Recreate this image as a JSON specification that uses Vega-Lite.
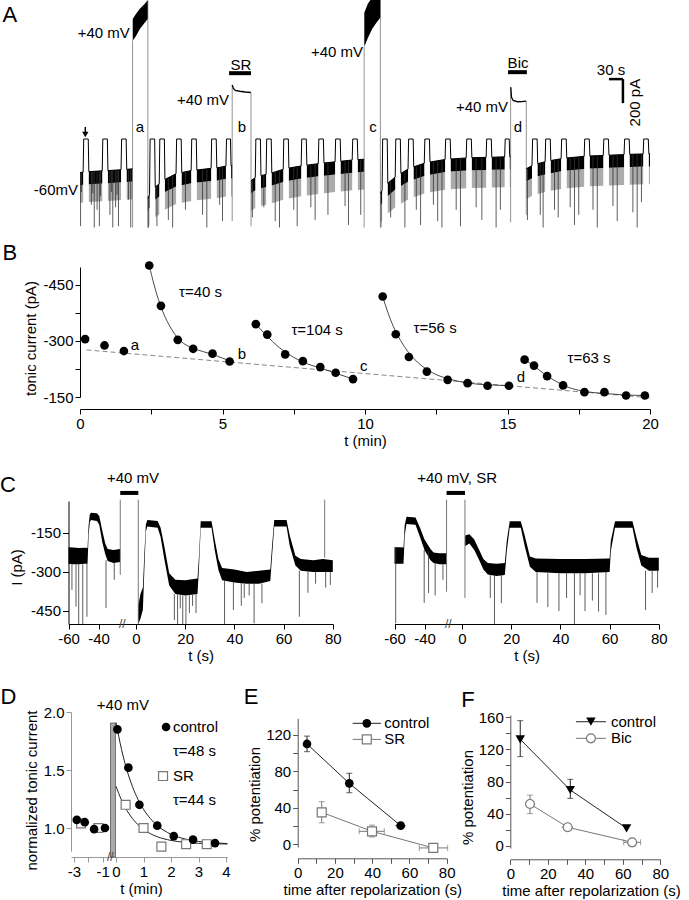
{
"$schema":"https://vega.github.io/schema/vega-lite/v6.json",
"width":689,"height":900,
"autosize":{"type":"fit","contains":"padding"},
"padding":0,
"background":"white",
"config":{"view":{"stroke":null},"font":"Liberation Sans",
"axis":{"grid":false,"labelFont":"Liberation Sans","titleFont":"Liberation Sans","labelFontSize":15,"titleFontSize":15,"titleFontWeight":"normal","labelColor":"black","titleColor":"black","domainColor":"black","tickColor":"black","labelFlush":false,"labelOverlap":false,"labelBound":false,"tickSize":5,"labelPadding":2,"titlePadding":3},
"text":{"font":"Liberation Sans","fontSize":15,"color":"black"}},
"datasets":{
"aband":[
{"s":0,"t":0,"v":-265,"v2":-365,"v3":-505},{"s":0,"t":0.11,"v":-262,"v2":-362,"v3":-502},
{"s":1,"t":0.31,"v":-258,"v2":-358,"v3":-498},{"s":1,"t":0.78,"v":-252,"v2":-352,"v3":-492},
{"s":2,"t":0.98,"v":-250,"v2":-350,"v3":-490},{"s":2,"t":1.44,"v":-243,"v2":-343,"v3":-483},
{"s":3,"t":1.64,"v":-240,"v2":-340,"v3":-480},{"s":3,"t":1.845,"v":-236,"v2":-336,"v3":-476},
{"s":4,"t":2.38,"v":-470,"v2":-570,"v3":-710},{"s":4,"t":2.44,"v":-440,"v2":-540,"v3":-680},
{"s":5,"t":2.64,"v":-380,"v2":-480,"v3":-620},{"s":5,"t":2.78,"v":-355,"v2":-455,"v3":-595},
{"s":6,"t":2.98,"v":-320,"v2":-420,"v3":-560},{"s":6,"t":3.37,"v":-275,"v2":-375,"v3":-515},
{"s":7,"t":3.57,"v":-265,"v2":-365,"v3":-505},{"s":7,"t":3.9,"v":-250,"v2":-350,"v3":-490},
{"s":8,"t":4.1,"v":-245,"v2":-345,"v3":-485},{"s":8,"t":4.6,"v":-232,"v2":-332,"v3":-472},
{"s":9,"t":4.8,"v":-228,"v2":-328,"v3":-468},{"s":9,"t":5.12,"v":-215,"v2":-315,"v3":-455},
{"s":10,"t":5.3,"v":-212,"v2":-312,"v3":-452},{"s":10,"t":5.34,"v":-211,"v2":-311,"v3":-451},
{"s":11,"t":6.0,"v":-330,"v2":-430,"v3":-570},{"s":11,"t":6.15,"v":-305,"v2":-405,"v3":-545},
{"s":12,"t":6.35,"v":-290,"v2":-390,"v3":-530},{"s":12,"t":6.53,"v":-280,"v2":-380,"v3":-520},
{"s":13,"t":6.73,"v":-268,"v2":-368,"v3":-508},{"s":13,"t":7.13,"v":-240,"v2":-340,"v3":-480},
{"s":14,"t":7.33,"v":-230,"v2":-330,"v3":-470},{"s":14,"t":7.76,"v":-213,"v2":-313,"v3":-453},
{"s":15,"t":7.96,"v":-207,"v2":-307,"v3":-447},{"s":15,"t":8.36,"v":-195,"v2":-295,"v3":-435},
{"s":16,"t":8.56,"v":-190,"v2":-290,"v3":-430},{"s":16,"t":8.95,"v":-180,"v2":-280,"v3":-420},
{"s":17,"t":9.15,"v":-176,"v2":-276,"v3":-416},{"s":17,"t":9.55,"v":-166,"v2":-266,"v3":-406},
{"s":18,"t":9.75,"v":-163,"v2":-263,"v3":-403},{"s":18,"t":9.97,"v":-160,"v2":-260,"v3":-400},
{"s":19,"t":10.54,"v":-430,"v2":-530,"v3":-670},{"s":19,"t":10.6,"v":-405,"v2":-505,"v3":-645},
{"s":20,"t":10.8,"v":-350,"v2":-450,"v3":-590},{"s":20,"t":11.06,"v":-300,"v2":-400,"v3":-540},
{"s":21,"t":11.26,"v":-272,"v2":-372,"v3":-512},{"s":21,"t":11.51,"v":-238,"v2":-338,"v3":-478},
{"s":22,"t":11.71,"v":-220,"v2":-320,"v3":-460},{"s":22,"t":12.08,"v":-192,"v2":-292,"v3":-432},
{"s":23,"t":12.28,"v":-182,"v2":-282,"v3":-422},{"s":23,"t":12.81,"v":-162,"v2":-262,"v3":-402},
{"s":24,"t":13.01,"v":-158,"v2":-258,"v3":-398},{"s":24,"t":13.55,"v":-150,"v2":-250,"v3":-390},
{"s":25,"t":13.75,"v":-148,"v2":-248,"v3":-388},{"s":25,"t":14.25,"v":-145,"v2":-245,"v3":-385},
{"s":26,"t":14.45,"v":-144,"v2":-244,"v3":-384},{"s":26,"t":14.9,"v":-141,"v2":-241,"v3":-381},
{"s":27,"t":15.08,"v":-140,"v2":-240,"v3":-380},{"s":27,"t":15.11,"v":-140,"v2":-240,"v3":-380},
{"s":28,"t":15.66,"v":-235,"v2":-335,"v3":-475},{"s":28,"t":15.86,"v":-210,"v2":-310,"v3":-450},
{"s":29,"t":16.06,"v":-195,"v2":-295,"v3":-435},{"s":29,"t":16.32,"v":-180,"v2":-280,"v3":-420},
{"s":30,"t":16.52,"v":-170,"v2":-270,"v3":-410},{"s":30,"t":16.88,"v":-156,"v2":-256,"v3":-396},
{"s":31,"t":17.08,"v":-150,"v2":-250,"v3":-390},{"s":31,"t":17.69,"v":-137,"v2":-237,"v3":-377},
{"s":32,"t":17.89,"v":-134,"v2":-234,"v3":-374},{"s":32,"t":18.36,"v":-130,"v2":-230,"v3":-370},
{"s":33,"t":18.56,"v":-128,"v2":-228,"v3":-368},{"s":33,"t":19.09,"v":-123,"v2":-223,"v3":-363},
{"s":34,"t":19.29,"v":-121,"v2":-221,"v3":-361},{"s":34,"t":19.76,"v":-118,"v2":-218,"v3":-358},
{"s":35,"t":19.96,"v":-117,"v2":-217,"v3":-357},{"s":35,"t":20,"v":-117,"v2":-217,"v3":-357}],
"atop":[
{"g":1,"t":0,"v":-265},{"g":1,"t":0.11,"v":-262},{"g":1,"t":0.13,"v":0},{"g":1,"t":0.29,"v":0},{"g":1,"t":0.31,"v":-258},{"g":1,"t":0.78,"v":-252},{"g":1,"t":0.8,"v":0},{"g":1,"t":0.96,"v":0},{"g":1,"t":0.98,"v":-250},{"g":1,"t":1.44,"v":-243},{"g":1,"t":1.46,"v":0},{"g":1,"t":1.62,"v":0},{"g":1,"t":1.64,"v":-240},{"g":1,"t":1.845,"v":-236},
{"g":2,"t":2.38,"v":-470},{"g":2,"t":2.44,"v":-440},{"g":2,"t":2.46,"v":0},{"g":2,"t":2.62,"v":0},{"g":2,"t":2.64,"v":-380},{"g":2,"t":2.78,"v":-355},{"g":2,"t":2.8,"v":0},{"g":2,"t":2.96,"v":0},{"g":2,"t":2.98,"v":-320},{"g":2,"t":3.37,"v":-275},{"g":2,"t":3.39,"v":0},{"g":2,"t":3.55,"v":0},{"g":2,"t":3.57,"v":-265},{"g":2,"t":3.9,"v":-250},{"g":2,"t":3.92,"v":0},{"g":2,"t":4.08,"v":0},{"g":2,"t":4.1,"v":-245},{"g":2,"t":4.6,"v":-232},{"g":2,"t":4.62,"v":0},{"g":2,"t":4.78,"v":0},{"g":2,"t":4.8,"v":-228},{"g":2,"t":5.12,"v":-215},{"g":2,"t":5.14,"v":0},{"g":2,"t":5.28,"v":0},{"g":2,"t":5.3,"v":-212},{"g":2,"t":5.34,"v":-211},
{"g":3,"t":6.0,"v":-330},{"g":3,"t":6.15,"v":-305},{"g":3,"t":6.17,"v":0},{"g":3,"t":6.33,"v":0},{"g":3,"t":6.35,"v":-290},{"g":3,"t":6.53,"v":-280},{"g":3,"t":6.55,"v":0},{"g":3,"t":6.71,"v":0},{"g":3,"t":6.73,"v":-268},{"g":3,"t":7.13,"v":-240},{"g":3,"t":7.15,"v":0},{"g":3,"t":7.31,"v":0},{"g":3,"t":7.33,"v":-230},{"g":3,"t":7.76,"v":-213},{"g":3,"t":7.78,"v":0},{"g":3,"t":7.94,"v":0},{"g":3,"t":7.96,"v":-207},{"g":3,"t":8.36,"v":-195},{"g":3,"t":8.38,"v":0},{"g":3,"t":8.54,"v":0},{"g":3,"t":8.56,"v":-190},{"g":3,"t":8.95,"v":-180},{"g":3,"t":8.97,"v":0},{"g":3,"t":9.13,"v":0},{"g":3,"t":9.15,"v":-176},{"g":3,"t":9.55,"v":-166},{"g":3,"t":9.57,"v":0},{"g":3,"t":9.73,"v":0},{"g":3,"t":9.75,"v":-163},{"g":3,"t":9.97,"v":-160},
{"g":4,"t":10.54,"v":-430},{"g":4,"t":10.6,"v":-405},{"g":4,"t":10.62,"v":0},{"g":4,"t":10.78,"v":0},{"g":4,"t":10.8,"v":-350},{"g":4,"t":11.06,"v":-300},{"g":4,"t":11.08,"v":0},{"g":4,"t":11.24,"v":0},{"g":4,"t":11.26,"v":-272},{"g":4,"t":11.51,"v":-238},{"g":4,"t":11.53,"v":0},{"g":4,"t":11.69,"v":0},{"g":4,"t":11.71,"v":-220},{"g":4,"t":12.08,"v":-192},{"g":4,"t":12.1,"v":0},{"g":4,"t":12.26,"v":0},{"g":4,"t":12.28,"v":-182},{"g":4,"t":12.81,"v":-162},{"g":4,"t":12.83,"v":0},{"g":4,"t":12.99,"v":0},{"g":4,"t":13.01,"v":-158},{"g":4,"t":13.55,"v":-150},{"g":4,"t":13.57,"v":0},{"g":4,"t":13.73,"v":0},{"g":4,"t":13.75,"v":-148},{"g":4,"t":14.25,"v":-145},{"g":4,"t":14.27,"v":0},{"g":4,"t":14.43,"v":0},{"g":4,"t":14.45,"v":-144},{"g":4,"t":14.9,"v":-141},{"g":4,"t":14.92,"v":0},{"g":4,"t":15.06,"v":0},{"g":4,"t":15.08,"v":-140},{"g":4,"t":15.11,"v":-140},
{"g":5,"t":15.66,"v":-235},{"g":5,"t":15.86,"v":-210},{"g":5,"t":15.88,"v":0},{"g":5,"t":16.04,"v":0},{"g":5,"t":16.06,"v":-195},{"g":5,"t":16.32,"v":-180},{"g":5,"t":16.34,"v":0},{"g":5,"t":16.5,"v":0},{"g":5,"t":16.52,"v":-170},{"g":5,"t":16.88,"v":-156},{"g":5,"t":16.9,"v":0},{"g":5,"t":17.06,"v":0},{"g":5,"t":17.08,"v":-150},{"g":5,"t":17.69,"v":-137},{"g":5,"t":17.71,"v":0},{"g":5,"t":17.87,"v":0},{"g":5,"t":17.89,"v":-134},{"g":5,"t":18.36,"v":-130},{"g":5,"t":18.38,"v":0},{"g":5,"t":18.54,"v":0},{"g":5,"t":18.56,"v":-128},{"g":5,"t":19.09,"v":-123},{"g":5,"t":19.11,"v":0},{"g":5,"t":19.27,"v":0},{"g":5,"t":19.29,"v":-121},{"g":5,"t":19.76,"v":-118},{"g":5,"t":19.78,"v":0},{"g":5,"t":19.94,"v":0},{"g":5,"t":19.96,"v":-117},{"g":5,"t":20,"v":-117}],
"aspk":[
{"t":0.02,"v":-265,"v2":-690},{"t":0.05,"v":-264,"v2":-420},{"t":0.4,"v":-257,"v2":-520},{"t":0.45,"v":-257,"v2":-430},{"t":0.5,"v":-256,"v2":-700},{"t":0.6,"v":-255,"v2":-560},{"t":0.68,"v":-254,"v2":-690},{"t":0.72,"v":-253,"v2":-450},{"t":1.05,"v":-249,"v2":-600},{"t":1.1,"v":-249,"v2":-420},{"t":1.15,"v":-248,"v2":-700},{"t":1.25,"v":-246,"v2":-540},{"t":1.3,"v":-245,"v2":-440},{"t":1.35,"v":-245,"v2":-690},{"t":1.7,"v":-239,"v2":-480},{"t":1.78,"v":-237,"v2":-700},
{"t":2.4,"v":-460,"v2":-700},{"t":2.7,"v":-370,"v2":-690},{"t":3.1,"v":-300,"v2":-640},{"t":3.25,"v":-285,"v2":-700},{"t":3.7,"v":-258,"v2":-560},{"t":4.3,"v":-240,"v2":-600},{"t":4.45,"v":-236,"v2":-700},{"t":4.9,"v":-225,"v2":-520},{"t":5.0,"v":-220,"v2":-650},
{"t":6.05,"v":-320,"v2":-620},{"t":6.45,"v":-285,"v2":-540},{"t":6.85,"v":-262,"v2":-650},{"t":7.0,"v":-250,"v2":-700},{"t":7.5,"v":-224,"v2":-560},{"t":7.62,"v":-218,"v2":-690},{"t":8.1,"v":-203,"v2":-540},{"t":8.25,"v":-198,"v2":-640},{"t":8.7,"v":-187,"v2":-600},{"t":9.3,"v":-173,"v2":-530},{"t":9.42,"v":-170,"v2":-680},{"t":9.85,"v":-162,"v2":-600},
{"t":10.56,"v":-420,"v2":-700},{"t":10.9,"v":-330,"v2":-620},{"t":11.4,"v":-255,"v2":-700},{"t":11.8,"v":-215,"v2":-560},{"t":11.95,"v":-200,"v2":-680},{"t":12.4,"v":-178,"v2":-520},{"t":12.55,"v":-172,"v2":-650},{"t":12.7,"v":-166,"v2":-700},{"t":13.2,"v":-155,"v2":-560},{"t":13.35,"v":-153,"v2":-690},{"t":13.9,"v":-147,"v2":-540},{"t":14.1,"v":-146,"v2":-640},{"t":14.6,"v":-143,"v2":-700},{"t":14.75,"v":-142,"v2":-560},
{"t":15.7,"v":-230,"v2":-640},{"t":16.15,"v":-190,"v2":-600},{"t":16.25,"v":-184,"v2":-700},{"t":16.65,"v":-166,"v2":-560},{"t":16.78,"v":-160,"v2":-620},{"t":17.2,"v":-148,"v2":-540},{"t":17.35,"v":-145,"v2":-680},{"t":17.5,"v":-141,"v2":-600},{"t":18.0,"v":-132,"v2":-560},{"t":18.15,"v":-131,"v2":-700},{"t":18.7,"v":-126,"v2":-530},{"t":18.85,"v":-125,"v2":-650},{"t":19.4,"v":-120,"v2":-580},{"t":19.55,"v":-119,"v2":-700},{"t":19.7,"v":-118,"v2":-500}],
"bpts":[
{"t":0.18,"v":-305},{"t":0.86,"v":-288},{"t":1.54,"v":-273},{"t":2.43,"v":-502},{"t":2.84,"v":-394},{"t":3.43,"v":-303},{"t":3.97,"v":-279},{"t":4.65,"v":-266},{"t":5.25,"v":-245},{"t":6.17,"v":-345},{"t":6.57,"v":-317},{"t":7.2,"v":-264},{"t":7.82,"v":-246},{"t":8.43,"v":-230},{"t":8.97,"v":-215},{"t":9.58,"v":-198},{"t":10.62,"v":-419},{"t":11.08,"v":-318},{"t":11.54,"v":-257},{"t":12.17,"v":-218},{"t":12.9,"v":-196},{"t":13.6,"v":-187},{"t":14.3,"v":-180},{"t":15.05,"v":-180},{"t":15.6,"v":-250},{"t":15.93,"v":-234},{"t":16.39,"v":-206},{"t":16.95,"v":-181},{"t":17.7,"v":-163},{"t":18.4,"v":-163},{"t":19.16,"v":-154},{"t":19.82,"v":-154}],
"bfit":[
{"g":1,"t":2.43,"v":-502},{"g":1,"t":2.6,"v":-450},{"g":1,"t":2.8,"v":-400},{"g":1,"t":3.0,"v":-362},{"g":1,"t":3.25,"v":-327},{"g":1,"t":3.5,"v":-302},{"g":1,"t":3.75,"v":-288},{"g":1,"t":4.0,"v":-279},{"g":1,"t":4.3,"v":-272},{"g":1,"t":4.65,"v":-264},{"g":1,"t":5.0,"v":-254},{"g":1,"t":5.25,"v":-247},
{"g":2,"t":6.17,"v":-345},{"g":2,"t":6.5,"v":-318},{"g":2,"t":7.0,"v":-282},{"g":2,"t":7.5,"v":-256},{"g":2,"t":8.0,"v":-238},{"g":2,"t":8.5,"v":-226},{"g":2,"t":9.0,"v":-213},{"g":2,"t":9.58,"v":-198},
{"g":3,"t":10.62,"v":-419},{"g":3,"t":10.8,"v":-377},{"g":3,"t":11.0,"v":-338},{"g":3,"t":11.25,"v":-301},{"g":3,"t":11.5,"v":-272},{"g":3,"t":11.75,"v":-250},{"g":3,"t":12.0,"v":-233},{"g":3,"t":12.5,"v":-210},{"g":3,"t":13.0,"v":-197},{"g":3,"t":13.5,"v":-189},{"g":3,"t":14.0,"v":-184},{"g":3,"t":14.5,"v":-182},{"g":3,"t":15.05,"v":-180},
{"g":4,"t":15.6,"v":-250},{"g":4,"t":15.8,"v":-240},{"g":4,"t":16.0,"v":-229},{"g":4,"t":16.25,"v":-214},{"g":4,"t":16.5,"v":-201},{"g":4,"t":16.75,"v":-190},{"g":4,"t":17.0,"v":-180},{"g":4,"t":17.5,"v":-168},{"g":4,"t":18.0,"v":-162},{"g":4,"t":18.5,"v":-159},{"g":4,"t":19.0,"v":-156},{"g":4,"t":19.5,"v":-154.5},{"g":4,"t":19.82,"v":-154}],
"clband":[
{"s":"L","t":-60,"v":-205,"v2":-268},{"s":"L","t":-57,"v":-206,"v2":-270},{"s":"L","t":-53,"v":-208,"v2":-270},{"s":"L","t":-49,"v":-207,"v2":-268},{"s":"L","t":-47.3,"v":-208,"v2":-268},{"s":"L","t":-46.6,"v":-120,"v2":-160},{"s":"L","t":-45.8,"v":-78,"v2":-108},{"s":"L","t":-45,"v":-72,"v2":-100},{"s":"L","t":-41,"v":-74,"v2":-104},{"s":"L","t":-39.5,"v":-85,"v2":-118},{"s":"L","t":-37.5,"v":-140,"v2":-185},{"s":"L","t":-35.5,"v":-190,"v2":-232},{"s":"L","t":-33.9,"v":-212,"v2":-258},{"s":"L","t":-30,"v":-215,"v2":-265},{"s":"L","t":-25.6,"v":-212,"v2":-262},
{"s":"R","t":0.95,"v":-430,"v2":-500},{"s":"R","t":1.8,"v":-385,"v2":-480},{"s":"R","t":2.8,"v":-360,"v2":-445},{"s":"R","t":3.4,"v":-230,"v2":-290},{"s":"R","t":4.0,"v":-118,"v2":-145},{"s":"R","t":4.6,"v":-100,"v2":-125},{"s":"R","t":8.8,"v":-104,"v2":-130},{"s":"R","t":10.0,"v":-130,"v2":-165},{"s":"R","t":11.5,"v":-200,"v2":-250},{"s":"R","t":13.5,"v":-305,"v2":-352},{"s":"R","t":16,"v":-330,"v2":-385},{"s":"R","t":20,"v":-332,"v2":-390},{"s":"R","t":25.0,"v":-325,"v2":-385},{"s":"R","t":25.6,"v":-240,"v2":-285},{"s":"R","t":26.3,"v":-105,"v2":-130},{"s":"R","t":30.7,"v":-105,"v2":-130},{"s":"R","t":32,"v":-175,"v2":-215},{"s":"R","t":33.5,"v":-250,"v2":-292},{"s":"R","t":35,"v":-285,"v2":-332},{"s":"R","t":40,"v":-290,"v2":-340},{"s":"R","t":45,"v":-300,"v2":-345},{"s":"R","t":50,"v":-295,"v2":-345},{"s":"R","t":54.6,"v":-290,"v2":-335},{"s":"R","t":55.3,"v":-200,"v2":-240},{"s":"R","t":56.2,"v":-100,"v2":-125},{"s":"R","t":61.2,"v":-100,"v2":-125},{"s":"R","t":62.5,"v":-160,"v2":-200},{"s":"R","t":64.8,"v":-238,"v2":-275},{"s":"R","t":67,"v":-250,"v2":-295},{"s":"R","t":72,"v":-255,"v2":-300},{"s":"R","t":76,"v":-250,"v2":-300},{"s":"R","t":80,"v":-255,"v2":-300}],
"clspk":[
{"t":-57.7,"v":-268,"v2":-369},{"t":-55,"v":-270,"v2":-433},{"t":-53.2,"v":-270,"v2":-500},{"t":-50.5,"v":-270,"v2":-500},{"t":-47.7,"v":-268,"v2":-472},{"t":-35,"v":-255,"v2":-438},{"t":-29.5,"v":-265,"v2":-330},
{"t":15.6,"v":-385,"v2":-485},{"t":16.9,"v":-385,"v2":-500},{"t":18,"v":-388,"v2":-440},{"t":19,"v":-390,"v2":-500},{"t":20.3,"v":-390,"v2":-500},{"t":21.7,"v":-390,"v2":-458},{"t":23,"v":-388,"v2":-430},{"t":24.4,"v":-385,"v2":-458},
{"t":36,"v":-330,"v2":-500},{"t":39.6,"v":-340,"v2":-446},{"t":42.8,"v":-342,"v2":-430},{"t":44,"v":-345,"v2":-400},{"t":46,"v":-345,"v2":-390},{"t":48,"v":-345,"v2":-497},{"t":51.2,"v":-345,"v2":-420},
{"t":66.4,"v":-295,"v2":-472},{"t":69.9,"v":-298,"v2":-380},{"t":73,"v":-300,"v2":-345},{"t":77.1,"v":-300,"v2":-360},{"t":79,"v":-300,"v2":-350}],
"crband":[
{"s":"L","t":-60,"v":-205,"v2":-268},{"s":"L","t":-56,"v":-205,"v2":-268},{"s":"L","t":-54,"v":-206,"v2":-268},{"s":"L","t":-53.2,"v":-120,"v2":-160},{"s":"L","t":-52,"v":-88,"v2":-115},{"s":"L","t":-46,"v":-90,"v2":-118},{"s":"L","t":-43,"v":-130,"v2":-165},{"s":"L","t":-40,"v":-175,"v2":-215},{"s":"L","t":-36,"v":-212,"v2":-255},{"s":"L","t":-34,"v":-225,"v2":-265},{"s":"L","t":-30,"v":-228,"v2":-270},{"s":"L","t":-25.4,"v":-228,"v2":-270},
{"s":"R","t":1.3,"v":-160,"v2":-200},{"s":"R","t":3,"v":-155,"v2":-190},{"s":"R","t":5,"v":-175,"v2":-215},{"s":"R","t":7,"v":-215,"v2":-255},{"s":"R","t":8.7,"v":-250,"v2":-290},{"s":"R","t":10.5,"v":-265,"v2":-310},{"s":"R","t":14,"v":-268,"v2":-315},{"s":"R","t":17.4,"v":-265,"v2":-312},{"s":"R","t":18.2,"v":-180,"v2":-220},{"s":"R","t":19.4,"v":-105,"v2":-130},{"s":"R","t":23.9,"v":-105,"v2":-130},{"s":"R","t":25.5,"v":-160,"v2":-200},{"s":"R","t":27.6,"v":-240,"v2":-280},{"s":"R","t":30,"v":-248,"v2":-300},{"s":"R","t":40,"v":-250,"v2":-305},{"s":"R","t":50,"v":-250,"v2":-305},{"s":"R","t":60,"v":-248,"v2":-300},{"s":"R","t":60.5,"v":-180,"v2":-220},{"s":"R","t":62.2,"v":-105,"v2":-130},{"s":"R","t":69.3,"v":-105,"v2":-130},{"s":"R","t":71,"v":-170,"v2":-210},{"s":"R","t":72.9,"v":-235,"v2":-275},{"s":"R","t":76,"v":-245,"v2":-295},{"s":"R","t":80,"v":-245,"v2":-295}],
"crspk":[
{"t":-59.2,"v":-205,"v2":-497},{"t":-40.2,"v":-215,"v2":-419},{"t":-37.3,"v":-220,"v2":-381},{"t":-32.9,"v":-265,"v2":-390},{"t":-27.7,"v":-270,"v2":-330},
{"t":11.5,"v":-312,"v2":-400},{"t":13.2,"v":-312,"v2":-500},{"t":16,"v":-312,"v2":-420},{"t":30.5,"v":-300,"v2":-419},{"t":34.9,"v":-305,"v2":-435},{"t":39.4,"v":-305,"v2":-450},{"t":42.5,"v":-305,"v2":-400},{"t":45.7,"v":-305,"v2":-500},{"t":48,"v":-305,"v2":-390},{"t":50,"v":-305,"v2":-450},{"t":53,"v":-305,"v2":-410},{"t":55.5,"v":-305,"v2":-452},{"t":58.5,"v":-300,"v2":-465},{"t":74.6,"v":-295,"v2":-446},{"t":77.3,"v":-295,"v2":-381},{"t":79.5,"v":-295,"v2":-360}]
},
"resolve":{"scale":{"x":"independent","y":"independent"},"axis":{"x":"independent","y":"independent"}},
"layer":[
{
"encoding":{"x":{"field":"t","type":"quantitative","scale":{"domain":[0,20],"range":[79,649],"nice":false,"zero":false},"axis":null},
"y":{"field":"v","type":"quantitative","scale":{"domain":[-720,1100],"range":[230,0],"nice":false,"zero":false},"axis":null}},
"layer":[
{"data":{"name":"aband"},"mark":{"type":"area","color":"#666","opacity":0.55,"clip":true},"encoding":{"y":{"field":"v2","type":"quantitative","axis":null},"y2":{"field":"v3"},"detail":{"field":"s","type":"nominal"}}},
{"data":{"name":"aband"},"mark":{"type":"area","color":"black","clip":true},"encoding":{"y2":{"field":"v2"},"detail":{"field":"s","type":"nominal"}}},
{"data":{"name":"aspk"},"mark":{"type":"rule","color":"#333","strokeWidth":0.8,"clip":true},"encoding":{"y2":{"field":"v2"}}},
{"data":{"values":[{"t":1.845,"v":780,"v2":-700},{"t":2.38,"v":1098,"v2":-700},{"t":5.34,"v":427,"v2":-650},{"t":6.0,"v":368,"v2":-690},{"t":9.97,"v":730,"v2":-700},{"t":10.54,"v":1150,"v2":-700},{"t":15.11,"v":410,"v2":-660},{"t":15.66,"v":300,"v2":-600}]},"mark":{"type":"rule","color":"#777","strokeWidth":0.8,"clip":true},"encoding":{"y2":{"field":"v2"}}},
{"data":{"values":[{"g":"a","t":1.85,"v":950,"v2":780},{"g":"a","t":1.95,"v":985,"v2":810},{"g":"a","t":2.1,"v":1030,"v2":870},{"g":"a","t":2.25,"v":1065,"v2":915},{"g":"a","t":2.375,"v":1098,"v2":950},{"g":"c","t":9.975,"v":1000,"v2":730},{"g":"c","t":10.1,"v":1070,"v2":800},{"g":"c","t":10.25,"v":1120,"v2":870},{"g":"c","t":10.4,"v":1150,"v2":920},{"g":"c","t":10.535,"v":1160,"v2":960}]},"mark":{"type":"area","color":"black","clip":true},"encoding":{"y2":{"field":"v2"},"detail":{"field":"g","type":"nominal"}}},
{"data":{"name":"atop"},"mark":{"type":"line","color":"black","strokeWidth":1,"clip":true},"encoding":{"detail":{"field":"g","type":"nominal"}}},
{"data":{"values":[{"g":"b","t":5.345,"v":427},{"g":"b","t":5.38,"v":400},{"g":"b","t":5.45,"v":385},{"g":"b","t":5.6,"v":378},{"g":"b","t":5.8,"v":372},{"g":"b","t":5.995,"v":368},{"g":"d","t":15.115,"v":410},{"g":"d","t":15.14,"v":330},{"g":"d","t":15.2,"v":305},{"g":"d","t":15.35,"v":295},{"g":"d","t":15.5,"v":296},{"g":"d","t":15.655,"v":300}]},"mark":{"type":"line","color":"black","strokeWidth":1.3,"clip":true},"encoding":{"detail":{"field":"g","type":"nominal"}}},
{"data":{"values":[{"t":5.23,"t2":6.0,"v":521},{"t":15.02,"t2":15.68,"v":529}]},"mark":{"type":"rule","color":"black","strokeWidth":4},"encoding":{"x2":{"field":"t2"}}},
{"data":{"values":[{"t":18.56,"t2":19.05,"v":474,"v2":474},{"t":19.05,"t2":19.05,"v":474,"v2":284}]},"mark":{"type":"rule","color":"black","strokeWidth":2.5},"encoding":{"x2":{"field":"t2"},"y2":{"field":"v2"}}},
{"data":{"values":[{"t":0.186,"v":95,"v2":50}]},"mark":{"type":"rule","color":"black","strokeWidth":1.5},"encoding":{"y2":{"field":"v2"}}},
{"data":{"values":[{"t":0.186,"v":35}]},"mark":{"type":"point","shape":"triangle-down","filled":true,"color":"black","size":40,"opacity":1}},
{"data":{"values":[{"t":1.75,"v":837,"s":"+40 mV"},{"t":5.23,"v":308,"s":"+40 mV"},{"t":9.93,"v":687,"s":"+40 mV"},{"t":15.02,"v":253,"s":"+40 mV"},{"t":-0.07,"v":-403,"s":"-60mV"}]},"mark":{"type":"text","align":"right","baseline":"middle","fontSize":15},"encoding":{"text":{"field":"s","type":"nominal"}}},
{"data":{"values":[{"t":5.65,"v":585,"s":"SR"},{"t":15.37,"v":600,"s":"Bic"},{"t":2.1,"v":95,"s":"a"},{"t":5.68,"v":95,"s":"b"},{"t":10.28,"v":95,"s":"c"},{"t":15.37,"v":95,"s":"d"},{"t":18.63,"v":545,"s":"30 s"}]},"mark":{"type":"text","align":"center","baseline":"middle","fontSize":15},"encoding":{"text":{"field":"s","type":"nominal"}}},
{"data":{"values":[{"t":19.47,"v":288,"s":"200 pA"}]},"mark":{"type":"text","angle":270,"align":"center","baseline":"middle","fontSize":15},"encoding":{"text":{"field":"s","type":"nominal"}}},
{"data":{"values":[{"t":-2.46,"v":980,"s":"A"}]},"mark":{"type":"text","align":"center","baseline":"middle","fontSize":22},"encoding":{"text":{"field":"s","type":"nominal"}}}
]},
{
"encoding":{"x":{"field":"t","type":"quantitative","scale":{"domain":[0,20],"range":[79,649],"nice":false,"zero":false},"axis":{"orient":"bottom","offset":-491,"values":[0,2.5,5,7.5,10,12.5,15,17.5,20],"labelExpr":"datum.value % 5 == 0 ? '' + datum.value : ''","title":"t (min)","titlePadding":2}},
"y":{"field":"v","type":"quantitative","scale":{"domain":[-498,-150],"range":[267,397],"nice":false,"zero":false},"axis":{"orient":"left","offset":-79,"values":[-450,-375,-300,-225,-150],"labelExpr":"datum.value % 150 == 0 ? '' + datum.value : ''","title":"tonic current (pA)","titlePadding":4,"titleY":338}}},
"layer":[
{"data":{"values":[{"t":0.23,"v":-276},{"t":20,"v":-148}]},"mark":{"type":"line","color":"#888","strokeDash":[5,3],"strokeWidth":1}},
{"data":{"name":"bfit"},"mark":{"type":"line","color":"#333","strokeWidth":0.9,"interpolate":"monotone"},"encoding":{"detail":{"field":"g","type":"nominal"}}},
{"data":{"name":"bpts"},"mark":{"type":"circle","size":75,"color":"black","opacity":1}},
{"data":{"values":[{"t":4.23,"v":-432,"s":"τ=40 s"},{"t":8.32,"v":-329,"s":"τ=104 s"},{"t":12.46,"v":-335,"s":"τ=56 s"},{"t":17.86,"v":-254,"s":"τ=63 s"},{"t":1.93,"v":-289,"s":"a"},{"t":5.68,"v":-265,"s":"b"},{"t":9.96,"v":-233,"s":"c"},{"t":15.47,"v":-204,"s":"d"}]},"mark":{"type":"text","align":"center","baseline":"middle","fontSize":15},"encoding":{"text":{"field":"s","type":"nominal"}}},
{"data":{"values":[{"t":-2.46,"v":-535,"s":"B"}]},"mark":{"type":"text","align":"center","baseline":"middle","fontSize":22},"encoding":{"text":{"field":"s","type":"nominal"}}}
]},
{
"encoding":{"x":{"field":"t","type":"quantitative","scale":{"domain":[-60,-25,-5,80],"range":[67.5,120,122.7,331.8],"nice":false,"zero":false},"axis":{"orient":"bottom","offset":-276,"values":[-60,-40,0,20,40,60,80],"labelExpr":"'' + datum.value","title":"t (s)","titlePadding":2}},
"y":{"field":"v","type":"quantitative","scale":{"domain":[-500,-27],"range":[624,501],"nice":false,"zero":false},"axis":{"orient":"left","offset":-67.5,"values":[-450,-300,-150],"labelExpr":"'' + datum.value","tickSize":6,"title":"I (pA)","titlePadding":6,"titleY":567}}},
"layer":[
{"data":{"name":"clband"},"mark":{"type":"area","color":"black","clip":true},"encoding":{"y2":{"field":"v2"},"detail":{"field":"s","type":"nominal"}}},
{"data":{"name":"clspk"},"mark":{"type":"rule","color":"#333","strokeWidth":0.8},"encoding":{"y2":{"field":"v2"}}},
{"data":{"values":[{"t":-25.5,"v":-22,"v2":-311},{"t":0.93,"v":-22,"v2":-500},{"t":76.7,"v":-245,"v2":-22}]},"mark":{"type":"rule","color":"#555","strokeWidth":0.8},"encoding":{"y2":{"field":"v2"}}},
{"data":{"values":[{"t":-25.5,"t2":0.93,"v":4}]},"mark":{"type":"rule","color":"black","strokeWidth":4},"encoding":{"x2":{"field":"t2"}}},
{"data":{"values":[{"t":-1.2,"v":61.5,"s":"+40 mV"}]},"mark":{"type":"text","align":"center","baseline":"middle","fontSize":15},"encoding":{"text":{"field":"s","type":"nominal"}}},
{"data":{"values":[{"t":-15,"v":-500,"s":"//"}]},"mark":{"type":"text","align":"center","baseline":"middle","fontSize":12,"color":"#444"},"encoding":{"text":{"field":"s","type":"nominal"}}},
{"data":{"values":[{"t":-100.3,"v":35,"s":"C"}]},"mark":{"type":"text","align":"center","baseline":"middle","fontSize":22},"encoding":{"text":{"field":"s","type":"nominal"}}}
]},
{
"encoding":{"x":{"field":"t","type":"quantitative","scale":{"domain":[-60,-25,-5,80],"range":[393.5,446,448.7,657.8],"nice":false,"zero":false},"axis":{"orient":"bottom","offset":-276,"values":[-60,-40,0,20,40,60,80],"labelExpr":"'' + datum.value","title":"t (s)","titlePadding":2}},
"y":{"field":"v","type":"quantitative","scale":{"domain":[-500,-27],"range":[624,501],"nice":false,"zero":false},"axis":null}},
"layer":[
{"data":{"name":"crband"},"mark":{"type":"area","color":"black","clip":true},"encoding":{"y2":{"field":"v2"},"detail":{"field":"s","type":"nominal"}}},
{"data":{"name":"crspk"},"mark":{"type":"rule","color":"#333","strokeWidth":0.8},"encoding":{"y2":{"field":"v2"}}},
{"data":{"values":[{"t":-25.3,"v":-22,"v2":-376},{"t":1.2,"v":-22,"v2":-400}]},"mark":{"type":"rule","color":"#555","strokeWidth":0.8},"encoding":{"y2":{"field":"v2"}}},
{"data":{"values":[{"t":-25.3,"t2":1.2,"v":4}]},"mark":{"type":"rule","color":"black","strokeWidth":4},"encoding":{"x2":{"field":"t2"}}},
{"data":{"values":[{"t":-2,"v":61.5,"s":"+40 mV, SR"}]},"mark":{"type":"text","align":"center","baseline":"middle","fontSize":15},"encoding":{"text":{"field":"s","type":"nominal"}}},
{"data":{"values":[{"t":-15,"v":-500,"s":"//"}]},"mark":{"type":"text","align":"center","baseline":"middle","fontSize":12,"color":"#444"},"encoding":{"text":{"field":"s","type":"nominal"}}}
]},
{
"encoding":{"x":{"field":"t","type":"quantitative","scale":{"domain":[-3.2,-0.5,-0.2,4.05],"range":[70,109,109.5,226.4],"nice":false,"zero":false},"axis":{"orient":"bottom","offset":-43,"values":[-3,-2,-1,0,1,2,3,4],"labelExpr":"datum.value == -2 ? '' : '' + datum.value","domainColor":"#999","tickColor":"#999","title":"t (min)","titleX":140,"titlePadding":2}},
"y":{"field":"v","type":"quantitative","scale":{"domain":[0.8,2.0],"range":[851.2,712],"nice":false,"zero":false},"axis":{"orient":"left","offset":-70,"values":[1,1.5,2],"format":".1f","domainColor":"#999","tickColor":"#999","title":"normalized tonic current","titlePadding":4,"titleY":790}}},
"layer":[
{"data":{"values":[{"t":-0.2,"t2":-0.02,"v":0.75,"v2":1.905}]},"mark":{"type":"rect","fill":"#aaa","stroke":"#555","strokeWidth":0.8},"encoding":{"x2":{"field":"t2"},"y2":{"field":"v2"}}},
{"data":{"values":[{"g":"c","t":0.0,"v":1.91},{"g":"c","t":0.2,"v":1.678},{"g":"c","t":0.4,"v":1.497},{"g":"c","t":0.6,"v":1.356},{"g":"c","t":0.8,"v":1.246},{"g":"c","t":1.0,"v":1.161},{"g":"c","t":1.25,"v":1.081},{"g":"c","t":1.5,"v":1.021},{"g":"c","t":1.75,"v":0.978},{"g":"c","t":2.0,"v":0.946},{"g":"c","t":2.5,"v":0.906},{"g":"c","t":3.0,"v":0.884},{"g":"c","t":3.5,"v":0.873},{"g":"c","t":4.05,"v":0.866},
{"g":"s","t":0.0,"v":1.36},{"g":"s","t":0.2,"v":1.241},{"g":"s","t":0.4,"v":1.15},{"g":"s","t":0.6,"v":1.081},{"g":"s","t":0.8,"v":1.028},{"g":"s","t":1.0,"v":0.988},{"g":"s","t":1.25,"v":0.951},{"g":"s","t":1.5,"v":0.925},{"g":"s","t":2.0,"v":0.893},{"g":"s","t":2.5,"v":0.876},{"g":"s","t":3.0,"v":0.868},{"g":"s","t":3.5,"v":0.864},{"g":"s","t":4.05,"v":0.862}]},"mark":{"type":"line","color":"#222","strokeWidth":1,"interpolate":"monotone"},"encoding":{"detail":{"field":"g","type":"nominal"}}},
{"data":{"values":[{"t":-2.5,"v":1.04},{"t":-1.3,"v":1.0},{"t":0.35,"v":1.2},{"t":1.0,"v":1.0},{"t":1.65,"v":0.84},{"t":2.55,"v":0.86},{"t":3.3,"v":0.86},{"t":1.71,"v":1.448}]},"mark":{"type":"point","shape":"square","size":80,"filled":true,"fill":"white","stroke":"#777","strokeWidth":1.2,"opacity":1}},
{"data":{"values":[{"t":-2.8,"v":1.07},{"t":-2.25,"v":1.05},{"t":-1.6,"v":0.99},{"t":-0.85,"v":1.0},{"t":0.05,"v":1.85},{"t":0.45,"v":1.52},{"t":0.85,"v":1.2},{"t":1.5,"v":1.02},{"t":2.1,"v":0.93},{"t":2.8,"v":0.9},{"t":3.6,"v":0.87},{"t":1.82,"v":1.871}]},"mark":{"type":"circle","size":75,"color":"black","opacity":1}},
{"data":{"values":[{"t":2.07,"v":1.871,"s":"control"},{"t":2.07,"v":1.664,"s":"τ=48 s"},{"t":2.07,"v":1.448,"s":"SR"},{"t":2.07,"v":1.241,"s":"τ=44 s"}]},"mark":{"type":"text","align":"left","baseline":"middle","fontSize":15},"encoding":{"text":{"field":"s","type":"nominal"}}},
{"data":{"values":[{"t":0.25,"v":2.06,"s":"+40 mV"}]},"mark":{"type":"text","align":"center","baseline":"middle","fontSize":15},"encoding":{"text":{"field":"s","type":"nominal"}}},
{"data":{"values":[{"t":-0.35,"v":0.75,"s":"//"}]},"mark":{"type":"text","align":"center","baseline":"middle","fontSize":12,"color":"#444"},"encoding":{"text":{"field":"s","type":"nominal"}}},
{"data":{"values":[{"t":-7.53,"v":2.13,"s":"D"}]},"mark":{"type":"text","align":"center","baseline":"middle","fontSize":22},"encoding":{"text":{"field":"s","type":"nominal"}}}
]},
{
"encoding":{"x":{"field":"t","type":"quantitative","scale":{"domain":[0,80],"range":[296.7,445.7],"nice":false,"zero":false},"axis":{"orient":"bottom","offset":-41.7,"values":[0,10,20,30,40,50,60,70,80],"labelExpr":"datum.value % 20 == 0 ? '' + datum.value : ''","domainColor":"#555","tickColor":"#555","title":"time after repolarization (s)","titlePadding":2}},
"y":{"field":"v","type":"quantitative","scale":{"domain":[-3,138],"range":[847,718.4],"nice":false,"zero":false},"axis":{"orient":"left","offset":-296.7,"values":[0,20,40,60,80,100,120],"labelExpr":"datum.value % 40 == 0 ? '' + datum.value : ''","domainColor":"#555","tickColor":"#555","title":"% potentiation","titlePadding":3,"titleY":794}}},
"layer":[
{"data":{"values":[{"t":5,"v":110},{"t":27.7,"v":66.8},{"t":55.3,"v":20.4}]},"mark":{"type":"line","color":"#222","strokeWidth":1}},
{"data":{"values":[{"t":12.9,"v":35},{"t":39.9,"v":14.2},{"t":72.8,"v":-4}]},"mark":{"type":"line","color":"#777","strokeWidth":1}},
{"data":{"values":[{"t":5,"v":101.5,"v2":118.6},{"t":27.7,"v":56.5,"v2":77.8}]},"mark":{"type":"rule","color":"#222"},"encoding":{"y2":{"field":"v2"}}},
{"data":{"values":[{"t":5,"v":101.5},{"t":5,"v":118.6},{"t":27.7,"v":56.5},{"t":27.7,"v":77.8}]},"mark":{"type":"tick","orient":"horizontal","size":6,"thickness":1,"color":"#222"}},
{"data":{"values":[{"t":52.5,"t2":58,"v":20.4}]},"mark":{"type":"rule","color":"#222"},"encoding":{"x2":{"field":"t2"}}},
{"data":{"values":[{"t":12.9,"v":23.5,"v2":46.7},{"t":39.9,"v":8,"v2":21},{"t":72.8,"v":-8.5,"v2":0.5}]},"mark":{"type":"rule","color":"#777"},"encoding":{"y2":{"field":"v2"}}},
{"data":{"values":[{"t":12.9,"v":23.5},{"t":12.9,"v":46.7},{"t":39.9,"v":8},{"t":39.9,"v":21}]},"mark":{"type":"tick","orient":"horizontal","size":6,"thickness":1,"color":"#777"}},
{"data":{"values":[{"t":33,"t2":46.5,"v":14.2},{"t":65.3,"t2":80.5,"v":-4}]},"mark":{"type":"rule","color":"#777"},"encoding":{"x2":{"field":"t2"}}},
{"data":{"values":[{"t":33,"v":14.2},{"t":46.5,"v":14.2},{"t":65.3,"v":-4},{"t":80.5,"v":-4}]},"mark":{"type":"tick","orient":"vertical","size":6,"thickness":1,"color":"#777"}},
{"data":{"values":[{"t":29.5,"t2":44.7,"v":132.6}]},"mark":{"type":"rule","color":"#222"},"encoding":{"x2":{"field":"t2"}}},
{"data":{"values":[{"t":29.5,"t2":44.7,"v":115}]},"mark":{"type":"rule","color":"#777"},"encoding":{"x2":{"field":"t2"}}},
{"data":{"values":[{"t":5,"v":110},{"t":27.7,"v":66.8},{"t":55.3,"v":20.4},{"t":37.1,"v":132.6}]},"mark":{"type":"circle","size":75,"color":"black","opacity":1}},
{"data":{"values":[{"t":12.9,"v":35},{"t":39.9,"v":14.2},{"t":72.8,"v":-4},{"t":37.1,"v":115}]},"mark":{"type":"point","shape":"square","size":80,"filled":true,"fill":"white","stroke":"#777","strokeWidth":1.2,"opacity":1}},
{"data":{"values":[{"t":46.5,"v":132.6,"s":"control"},{"t":46.5,"v":115,"s":"SR"}]},"mark":{"type":"text","align":"left","baseline":"middle","fontSize":15},"encoding":{"text":{"field":"s","type":"nominal"}}},
{"data":{"values":[{"t":-25,"v":161.4,"s":"E"}]},"mark":{"type":"text","align":"center","baseline":"middle","fontSize":22},"encoding":{"text":{"field":"s","type":"nominal"}}}
]},
{
"encoding":{"x":{"field":"t","type":"quantitative","scale":{"domain":[0,80],"range":[509.3,659.3],"nice":false,"zero":false},"axis":{"orient":"bottom","offset":-40.7,"values":[0,10,20,30,40,50,60,70,80],"labelExpr":"datum.value % 20 == 0 ? '' + datum.value : ''","domainColor":"#555","tickColor":"#555","title":"time after repolarization (s)","titlePadding":2,"titleX":590}},
"y":{"field":"v","type":"quantitative","scale":{"domain":[-3,163],"range":[848.1,714.9],"nice":false,"zero":false},"axis":{"orient":"left","offset":-509.3,"values":[0,20,40,60,80,100,120,140,160],"labelExpr":"datum.value % 40 == 0 ? '' + datum.value : ''","domainColor":"#555","tickColor":"#555","title":"% potentiation","titlePadding":3,"titleY":797}}},
"layer":[
{"data":{"values":[{"t":5.3,"v":132.6},{"t":32,"v":69.4},{"t":62,"v":21.7}]},"mark":{"type":"line","color":"#222","strokeWidth":1}},
{"data":{"values":[{"t":10.5,"v":52},{"t":30.6,"v":23},{"t":65,"v":4.2}]},"mark":{"type":"line","color":"#777","strokeWidth":1}},
{"data":{"values":[{"t":5.3,"v":111,"v2":155.8},{"t":32,"v":59,"v2":82.7}]},"mark":{"type":"rule","color":"#222"},"encoding":{"y2":{"field":"v2"}}},
{"data":{"values":[{"t":5.3,"v":111},{"t":5.3,"v":155.8},{"t":32,"v":59},{"t":32,"v":82.7}]},"mark":{"type":"tick","orient":"horizontal","size":6,"thickness":1,"color":"#222"}},
{"data":{"values":[{"t":10.5,"v":40,"v2":63},{"t":30.6,"v":20,"v2":26},{"t":65,"v":0,"v2":8.5}]},"mark":{"type":"rule","color":"#777"},"encoding":{"y2":{"field":"v2"}}},
{"data":{"values":[{"t":10.5,"v":40},{"t":10.5,"v":63}]},"mark":{"type":"tick","orient":"horizontal","size":6,"thickness":1,"color":"#777"}},
{"data":{"values":[{"t":27.5,"t2":33.5,"v":23},{"t":60.5,"t2":69.5,"v":4.2}]},"mark":{"type":"rule","color":"#777"},"encoding":{"x2":{"field":"t2"}}},
{"data":{"values":[{"t":60.5,"v":4.2},{"t":69.5,"v":4.2}]},"mark":{"type":"tick","orient":"vertical","size":6,"thickness":1,"color":"#777"}},
{"data":{"values":[{"t":35,"t2":51,"v":154.5}]},"mark":{"type":"rule","color":"#222"},"encoding":{"x2":{"field":"t2"}}},
{"data":{"values":[{"t":35,"t2":51,"v":133.8}]},"mark":{"type":"rule","color":"#777"},"encoding":{"x2":{"field":"t2"}}},
{"data":{"values":[{"t":5.3,"v":132.6},{"t":32,"v":69.4},{"t":62,"v":21.7},{"t":43,"v":154.5}]},"mark":{"type":"point","shape":"triangle-down","size":90,"filled":true,"color":"black","opacity":1}},
{"data":{"values":[{"t":10.5,"v":52},{"t":30.6,"v":23},{"t":65,"v":4.2},{"t":43,"v":133.8}]},"mark":{"type":"point","shape":"circle","size":80,"filled":true,"fill":"white","stroke":"#777","strokeWidth":1.2,"opacity":1}},
{"data":{"values":[{"t":53.7,"v":154.5,"s":"control"},{"t":53.7,"v":133.8,"s":"Bic"}]},"mark":{"type":"text","align":"left","baseline":"middle","fontSize":15},"encoding":{"text":{"field":"s","type":"nominal"}}},
{"data":{"values":[{"t":-22.6,"v":181.6,"s":"F"}]},"mark":{"type":"text","align":"center","baseline":"middle","fontSize":22},"encoding":{"text":{"field":"s","type":"nominal"}}}
]}
]
}
